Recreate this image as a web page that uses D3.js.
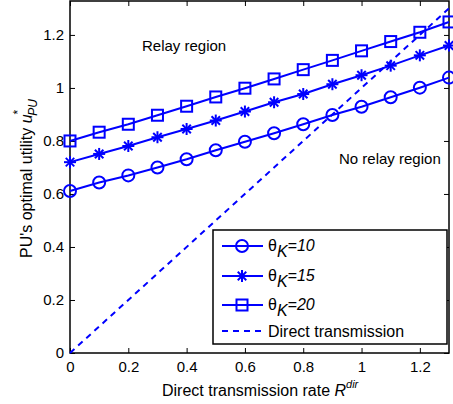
<!DOCTYPE html>
<html>
<head>
<meta charset="utf-8">
<script src="https://cdn.jsdelivr.net/npm/d3@7"></script>
<style>
  body { margin: 0; background: #fff; }
  svg text { font-family: "Liberation Sans", Arial, sans-serif; }
</style>
</head>
<body>
<div id="chart"></div>
<script>
// data
const rates = [0, 0.1, 0.2, 0.3, 0.4, 0.5, 0.6, 0.7, 0.8, 0.9, 1.0, 1.1, 1.2, 1.3];
const theta10 = [0.611, 0.643, 0.670, 0.700, 0.731, 0.765, 0.797, 0.829, 0.863, 0.898, 0.929, 0.965, 1.001, 1.039];
const theta15 = [0.720, 0.751, 0.781, 0.814, 0.845, 0.877, 0.911, 0.946, 0.977, 1.014, 1.048, 1.084, 1.123, 1.160];
const theta20 = [0.800, 0.833, 0.863, 0.897, 0.931, 0.966, 0.999, 1.034, 1.069, 1.104, 1.140, 1.175, 1.210, 1.249];
const directX = [0, 1.3];
const xTicks = [0, 0.2, 0.4, 0.6, 0.8, 1, 1.2];
const yTicks = [0, 0.2, 0.4, 0.6, 0.8, 1, 1.2];
const seriesNames = ["10", "15", "20"];

const width = 453, height = 404;
const blue = "#0000ff";

const svg = d3.select("#chart").append("svg")
  .attr("width", width)
  .attr("height", height);

const x = d3.scaleLinear().domain([0, 1.3]).range([70, 449]);
const y = d3.scaleLinear().domain([0, 1.328]).range([353, 1]);

// axes, ticks inward, mirrored on top/right
svg.append("g")
  .attr("transform", "translate(0," + y(0) + ")")
  .call(d3.axisBottom(x).tickValues(xTicks).tickSizeInner(-5).tickSizeOuter(0).tickPadding(8).tickFormat(d3.format("")))
  .call(g => g.select(".domain").remove());
svg.append("g")
  .attr("transform", "translate(0," + y(1.328) + ")")
  .call(d3.axisTop(x).tickValues(xTicks).tickSizeInner(-5).tickSizeOuter(0).tickFormat(""))
  .call(g => g.select(".domain").remove());
svg.append("g")
  .attr("transform", "translate(" + x(0) + ",0)")
  .call(d3.axisLeft(y).tickValues(yTicks).tickSizeInner(-5).tickSizeOuter(0).tickPadding(6).tickFormat(d3.format("")))
  .call(g => g.select(".domain").remove());
svg.append("g")
  .attr("transform", "translate(" + x(1.3) + ",0)")
  .call(d3.axisRight(y).tickValues(yTicks).tickSizeInner(-5).tickSizeOuter(0).tickFormat(""))
  .call(g => g.select(".domain").remove());

svg.selectAll(".tick text").attr("font-size", 15).attr("fill", "#000");
svg.selectAll(".tick line").attr("stroke", "#000");

svg.append("rect")
  .attr("x", x(0)).attr("y", y(1.328))
  .attr("width", x(1.3) - x(0)).attr("height", y(0) - y(1.328))
  .attr("fill", "none").attr("stroke", "#000").attr("stroke-width", 1.5);

// direct transmission dashed line
svg.append("line")
  .attr("x1", x(directX[0])).attr("y1", y(directX[0]))
  .attr("x2", x(directX[1])).attr("y2", y(directX[1]))
  .attr("stroke", blue).attr("stroke-width", 2)
  .attr("stroke-dasharray", "6,5");

const line = d3.line().x((d, i) => x(rates[i])).y(d => y(d));

function drawMarker(g, type, cx, cy) {
  if (type === "circle") {
    g.append("circle").attr("cx", cx).attr("cy", cy).attr("r", 6)
      .attr("fill", "none").attr("stroke", blue).attr("stroke-width", 2);
  } else if (type === "square") {
    g.append("rect").attr("x", cx - 5.5).attr("y", cy - 5.5).attr("width", 11).attr("height", 11)
      .attr("fill", "none").attr("stroke", blue).attr("stroke-width", 2);
  } else {
    const r = 6;
    [0, 45, 90, 135].forEach(a => {
      const rad = a * Math.PI / 180;
      g.append("line")
        .attr("x1", cx - r * Math.cos(rad)).attr("y1", cy - r * Math.sin(rad))
        .attr("x2", cx + r * Math.cos(rad)).attr("y2", cy + r * Math.sin(rad))
        .attr("stroke", blue).attr("stroke-width", 2);
    });
  }
}

const series = [
  { vals: theta10, marker: "circle" },
  { vals: theta15, marker: "star" },
  { vals: theta20, marker: "square" }
];

series.forEach(s => {
  svg.append("path")
    .attr("d", line(s.vals))
    .attr("fill", "none").attr("stroke", blue).attr("stroke-width", 2);
  let g = svg.append("g");
  s.vals.forEach((v, i) => drawMarker(g, s.marker, x(rates[i]), y(v)));
});

// region labels
svg.append("text").attr("x", 142).attr("y", 51).attr("font-size", 15).text("Relay region");
svg.append("text").attr("x", 339).attr("y", 164).attr("font-size", 15).text("No relay region");

// legend
const legend = svg.append("g");
legend.append("rect")
  .attr("x", 213).attr("y", 230).attr("width", 234).attr("height", 114)
  .attr("fill", "#fff").attr("stroke", "#000").attr("stroke-width", 1.5);

const rowY = [246, 276, 305, 331];
series.forEach((s, i) => {
  legend.append("line")
    .attr("x1", 222).attr("x2", 263).attr("y1", rowY[i]).attr("y2", rowY[i])
    .attr("stroke", blue).attr("stroke-width", 2);
  drawMarker(legend, s.marker, 242, rowY[i]);
  let t = legend.append("text").attr("x", 268).attr("y", rowY[i] + 5).attr("font-size", 16);
  t.append("tspan").text("θ");
  t.append("tspan").attr("font-style", "italic").attr("dy", 6).text("K");
  t.append("tspan").attr("font-style", "italic").attr("dy", -6).text("=" + seriesNames[i]);
});
legend.append("line")
  .attr("x1", 222).attr("x2", 263).attr("y1", rowY[3]).attr("y2", rowY[3])
  .attr("stroke", blue).attr("stroke-width", 2).attr("stroke-dasharray", "6,5");
legend.append("text").attr("x", 268).attr("y", rowY[3] + 6).attr("font-size", 16).text("Direct transmission");

// axis titles
let xt = svg.append("text").attr("x", 162).attr("y", 396).attr("font-size", 16);
xt.append("tspan").text("Direct transmission rate ");
xt.append("tspan").attr("font-style", "italic").text("R");
xt.append("tspan").attr("font-style", "italic").attr("font-size", 11).attr("dy", -8).text("dir");

let yt = svg.append("text")
  .attr("transform", "translate(32,258) rotate(-90)")
  .attr("font-size", 16);
yt.append("tspan").text("PU's optimal utility ");
yt.append("tspan").attr("font-style", "italic").text("u");
yt.append("tspan").attr("font-size", 12).attr("dy", -10).text("*");
yt.append("tspan").attr("font-style", "italic").attr("font-size", 12).attr("dx", -6).attr("dy", 15).text("PU");
</script>
</body>
</html>
